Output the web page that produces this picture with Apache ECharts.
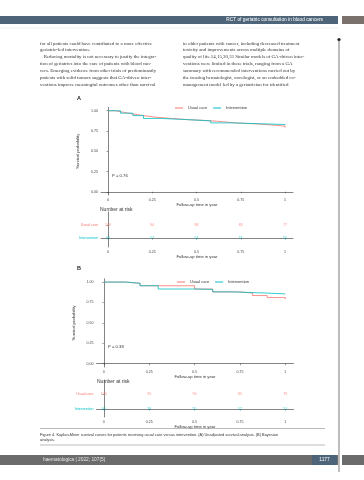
<!DOCTYPE html>
<html><head><meta charset="utf-8">
<script src="https://cdn.jsdelivr.net/npm/echarts@6/dist/echarts.min.js"></script>
<style>html,body{margin:0;padding:0;background:#fff}#c{width:364px;height:480px}</style>
</head><body><div id="c"></div>
<script>
// ---------- DATA ----------
const groups = ['Usual care', 'Intervention'];
const xTicks = [0, 0.25, 0.5, 0.75, 1];
const yTicks = [0, 0.25, 0.5, 0.75, 1];
// Panel A Kaplan-Meier (time in years, survival probability)
const kmA_usual_t = [0, 0.04, 0.09, 0.14, 0.2, 0.27, 0.36, 0.45, 0.55, 0.62, 0.72, 0.82, 0.92, 1.0];
const kmA_usual_s = [1.0, 0.98, 0.96, 0.94, 0.92, 0.905, 0.89, 0.88, 0.87, 0.85, 0.84, 0.825, 0.81, 0.79];
const kmA_int_t = [0, 0.07, 0.14, 0.2, 0.3, 0.45, 0.58, 0.7, 0.85, 1.0];
const kmA_int_s = [1.0, 0.97, 0.94, 0.905, 0.89, 0.875, 0.85, 0.84, 0.83, 0.82];
// Panel B Kaplan-Meier
const kmB_usual_t = [0, 0.12, 0.2, 0.36, 0.5, 0.6, 0.75, 0.82, 0.9, 1.0];
const kmB_usual_s = [1.0, 0.985, 0.955, 0.955, 0.915, 0.88, 0.865, 0.835, 0.81, 0.79];
const kmB_int_t = [0, 0.12, 0.2, 0.3, 0.5, 0.6, 0.7, 0.9, 1.0];
const kmB_int_s = [1.0, 0.985, 0.955, 0.915, 0.91, 0.88, 0.865, 0.855, 0.85];
// Numbers at risk
const riskA_usual = [100, 94, 88, 83, 77];
const riskA_int = [60, 57, 54, 51, 50];
const riskB_usual = [100, 95, 90, 85, 79];
const riskB_int = [60, 58, 55, 52, 51];
const pValues = ['P = 0.76', 'P = 0.38'];
const colors = ['#F8766D', '#00BFC4'];
// Page text
const headerTitle = 'RCT of geriatric consultation in blood cancers';
const leftCol = [
 'for all patients could have contributed to a more effective',
 'geriatric-led intervention.',
 '   Reducing mortality is not necessary to justify the integra-',
 'tion of geriatrics into the care of patients with blood can-',
 'cers. Emerging evidence from other trials of predominantly',
 'patients with solid tumors suggests that GA-driven inter-',
 'ventions improve meaningful outcomes other than survival'
];
const rightCol = [
 'in older patients with cancer, including decreased treatment',
 'toxicity and improvements across multiple domains of',
 'quality of life.14,15,30,31 Similar models of GA-driven inter-',
 'ventions were limited in these trials, ranging from a GA',
 'summary with recommended interventions carried out by',
 'the treating hematologist, oncologist, or an embedded co-',
 'management model led by a geriatrician for identified'
];
const captionLines = [
 'Figure 4. Kaplan-Meier survival curves for patients receiving usual care versus intervention. (A) Unadjusted survival analysis. (B) Bayesian',
 'analysis.'
];
const footerText = 'haematologica | 2022; 107(5)';
const pageNumber = '1177';

// ---------- HELPERS ----------
const zip = (t, s) => t.map((v, i) => [v, s[i]]);
const FS = 'Liberation Sans, Arial, sans-serif';
const axisCol = '#333';
function kmGrid(left, top, width, height) { return { left, top, width, height, containLabel: false }; }
function kmX(idx) {
  return { type: 'value', gridIndex: idx, min: -0.04, max: 1.045,
    axisLine: { show: true, lineStyle: { color: axisCol, width: 0.6 } },
    axisTick: { show: true, customValues: xTicks, length: 1.5, lineStyle: { color: axisCol, width: 0.5 } },
    axisLabel: { customValues: xTicks, fontSize: 3.6, color: '#444', margin: 2.5, fontFamily: FS,
      formatter: v => String(v) },
    splitLine: { show: false },
    name: 'Follow-up time in year', nameLocation: 'middle', nameGap: 8,
    nameTextStyle: { fontSize: 4.2, color: '#333', fontFamily: FS } };
}
function kmY(idx) {
  return { type: 'value', gridIndex: idx, min: -0.04, max: 1.04,
    axisLine: { show: true, lineStyle: { color: axisCol, width: 0.6 } },
    axisTick: { show: true, customValues: yTicks, length: 1.5, lineStyle: { color: axisCol, width: 0.5 } },
    axisLabel: { customValues: yTicks, fontSize: 3.6, color: '#444', margin: 3, fontFamily: FS,
      formatter: v => v.toFixed(2) },
    splitLine: { show: false },
    name: 'Survival probability', nameLocation: 'middle', nameGap: 20, nameRotate: 90,
    nameTextStyle: { fontSize: 4.2, color: '#333', fontFamily: FS } };
}
function riskX(idx) { return kmX(idx); }
function riskY(idx, top, bottom) {
  return { type: 'value', gridIndex: idx, min: bottom, max: top,
    axisLine: { show: true, lineStyle: { color: axisCol, width: 0.6 } },
    axisTick: { show: true, customValues: [0, 1], length: 1.5, lineStyle: { color: axisCol, width: 0.5 } },
    axisLabel: { customValues: [0, 1], fontSize: 3.6, margin: 3, fontFamily: FS,
      formatter: v => v === 1 ? '{u|' + groups[0] + '}' : '{i|' + groups[1] + '}',
      rich: { u: { color: colors[0], fontSize: 3.6, fontFamily: FS }, i: { color: colors[1], fontSize: 3.6, fontFamily: FS } } },
    splitLine: { show: false } };
}
function kmSeries(name, data, gi, color) {
  return { name, type: 'line', step: 'end', xAxisIndex: gi, yAxisIndex: gi, data,
    showSymbol: false, symbol: 'none', color, lineStyle: { width: 0.8, color }, animation: false, silent: true };
}
function riskSeries(name, counts, row, gi, color) {
  return { name, type: 'scatter', xAxisIndex: gi, yAxisIndex: gi, symbolSize: 0.1,
    data: counts.map((c, i) => [xTicks[i], row, c]), color, animation: false, silent: true,
    label: { show: true, position: 'inside', formatter: p => String(p.data[2]), fontSize: 3.6, color, fontFamily: FS } };
}

// ---------- GRAPHICS (page furniture) ----------
const g = [];
g.push({ type: 'rect', shape: { x: 0, y: 16, width: 338, height: 8 }, style: { fill: '#4e6579' } });
g.push({ type: 'rect', shape: { x: 342, y: 16, width: 22, height: 8 }, style: { fill: '#7a716c' } });
g.push({ type: 'text', x: 323, y: 20, style: { text: headerTitle, fill: '#fff', fontSize: 4.8, fontFamily: FS, align: 'right', verticalAlign: 'middle' } });
g.push({ type: 'line', shape: { x1: 0, y1: 28, x2: 338, y2: 28 }, style: { stroke: '#d8dde2', lineWidth: 0.5 } });
g.push({ type: 'line', shape: { x1: 339, y1: 39, x2: 339, y2: 472 }, style: { stroke: '#444', lineWidth: 0.7 } });
g.push({ type: 'circle', shape: { cx: 339, cy: 39.5, r: 1.6 }, style: { fill: '#222' } });
leftCol.forEach((t, i) => g.push({ type: 'text', x: 40, y: 43.3 + i * 6.9, style: { text: t, fill: '#333', fontSize: 4.9, fontFamily: 'Liberation Serif, serif', verticalAlign: 'middle' } }));
rightCol.forEach((t, i) => g.push({ type: 'text', x: 183, y: 43.3 + i * 6.9, style: { text: t, fill: '#333', fontSize: 4.9, fontFamily: 'Liberation Serif, serif', verticalAlign: 'middle' } }));
g.push({ type: 'text', x: 77, y: 98, style: { text: 'A', fill: '#222', fontSize: 5.5, fontWeight: 'bold', fontFamily: FS, verticalAlign: 'middle' } });
g.push({ type: 'text', x: 77, y: 268, style: { text: 'B', fill: '#222', fontSize: 5.5, fontWeight: 'bold', fontFamily: FS, verticalAlign: 'middle' } });
g.push({ type: 'text', x: 112, y: 176, style: { text: pValues[0], fill: '#333', fontSize: 4.2, fontFamily: FS, verticalAlign: 'middle' } });
g.push({ type: 'text', x: 108, y: 347, style: { text: pValues[1], fill: '#333', fontSize: 4.2, fontFamily: FS, verticalAlign: 'middle' } });
g.push({ type: 'text', x: 100, y: 210, style: { text: 'Number at risk', fill: '#333', fontSize: 5, fontFamily: FS, verticalAlign: 'middle' } });
g.push({ type: 'text', x: 97, y: 382, style: { text: 'Number at risk', fill: '#333', fontSize: 5, fontFamily: FS, verticalAlign: 'middle' } });
g.push({ type: 'line', shape: { x1: 40, y1: 428.5, x2: 325, y2: 428.5 }, style: { stroke: '#777', lineWidth: 0.5 } });
captionLines.forEach((t, i) => g.push({ type: 'text', x: 40, y: 435 + i * 5, style: { text: t, fill: '#333', fontSize: 3.9, fontFamily: FS, verticalAlign: 'middle' } }));
g.push({ type: 'line', shape: { x1: 40, y1: 445, x2: 325, y2: 445 }, style: { stroke: '#777', lineWidth: 0.5 } });
g.push({ type: 'rect', shape: { x: 0, y: 455, width: 338, height: 10 }, style: { fill: '#6b6b6b' } });
g.push({ type: 'rect', shape: { x: 342, y: 455, width: 22, height: 10 }, style: { fill: '#6b6b6b' } });
g.push({ type: 'rect', shape: { x: 312, y: 455, width: 25, height: 10 }, style: { fill: '#4e6579' } });
g.push({ type: 'text', x: 43, y: 460, style: { text: footerText, fill: '#e8e8e8', fontSize: 4.8, fontFamily: FS, verticalAlign: 'middle' } });
g.push({ type: 'text', x: 324.5, y: 460, style: { text: pageNumber, fill: '#fff', fontSize: 4.8, fontFamily: FS, align: 'center', verticalAlign: 'middle' } });

const legendBase = { data: groups, orient: 'horizontal', itemWidth: 8, itemHeight: 1, itemGap: 6, icon: 'rect',
  textStyle: { fontSize: 4, color: '#333', fontFamily: FS }, selectedMode: false };

const option = {
  animation: false,
  backgroundColor: '#fff',
  graphic: g,
  legend: [
    Object.assign({}, legendBase, { left: 170, top: 101 }),
    Object.assign({}, legendBase, { left: 172, top: 275 })
  ],
  grid: [
    kmGrid(101, 107.5, 192, 87.5),
    kmGrid(101, 212, 192, 35),
    kmGrid(96.5, 278.8, 197, 88.2),
    kmGrid(96.5, 380, 197, 37)
  ],
  xAxis: [kmX(0), riskX(1), kmX(2), riskX(3)],
  yAxis: [kmY(0), riskY(1, 2.0, -0.69), kmY(2), riskY(3, 1.93, -0.53)],
  series: [
    kmSeries(groups[0], zip(kmA_usual_t, kmA_usual_s), 0, colors[0]),
    kmSeries(groups[1], zip(kmA_int_t, kmA_int_s), 0, colors[1]),
    riskSeries(groups[0], riskA_usual, 1, 1, colors[0]),
    riskSeries(groups[1], riskA_int, 0, 1, colors[1]),
    kmSeries(groups[0], zip(kmB_usual_t, kmB_usual_s), 2, colors[0]),
    kmSeries(groups[1], zip(kmB_int_t, kmB_int_s), 2, colors[1]),
    riskSeries(groups[0], riskB_usual, 1, 3, colors[0]),
    riskSeries(groups[1], riskB_int, 0, 3, colors[1])
  ]
};
const chart = echarts.init(document.getElementById('c'), null, { renderer: 'canvas', width: 364, height: 480 });
chart.setOption(option);
</script></body></html>
